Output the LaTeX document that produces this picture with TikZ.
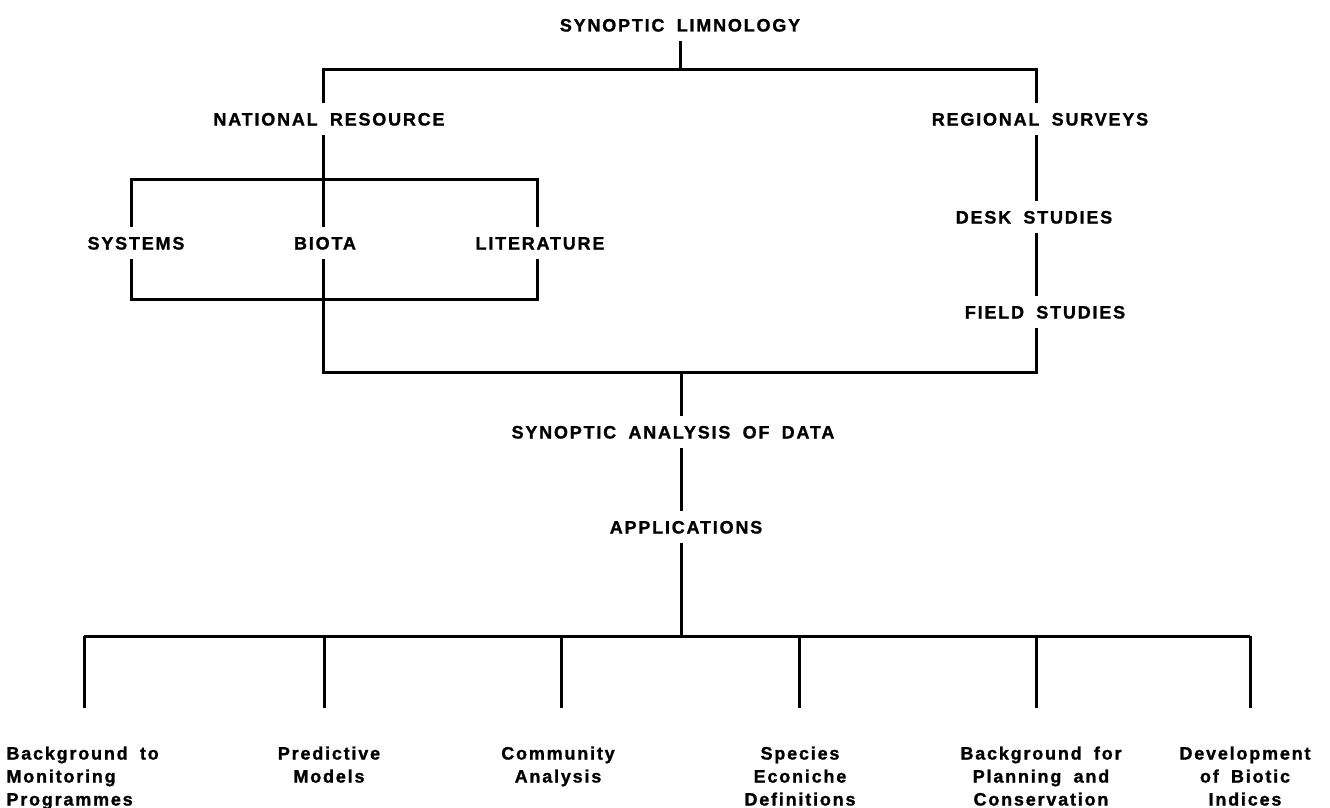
\documentclass[tikz,border=0pt]{standalone}
\usepackage{fontspec}
\setmainfont{Liberation Sans}[LetterSpace=10,WordSpace=1.8,BoldFeatures={FakeBold=1.2}]
\begin{document}
\begin{tikzpicture}[x=1pt,y=-1pt,line width=3pt,line join=miter,
  captxt/.style={font=\fontsize{18}{21}\selectfont\bfseries,inner xsep=0pt,inner ysep=8pt,text height=13pt,text depth=0pt},
  lab/.style={font=\fontsize{18}{23}\selectfont\bfseries,align=center,anchor=north,inner sep=0pt}]
\useasboundingbox[fill=white] (0,0) rectangle (1330,808);
% text nodes
\node[captxt] (sl) at (680,25) {SYNOPTIC LIMNOLOGY};
\node[captxt] (nr) at (329,119) {NATIONAL RESOURCE};
\node[captxt] (rs) at (1040,119) {REGIONAL SURVEYS};
\node[captxt] (sy) at (136,243) {SYSTEMS};
\node[captxt] (bi) at (325,243) {BIOTA};
\node[captxt] (li) at (540,243) {LITERATURE};
\node[captxt] (ds) at (1034,217) {DESK STUDIES};
\node[captxt] (fs) at (1045,312) {FIELD STUDIES};
\node[captxt] (sa) at (673,432) {SYNOPTIC ANALYSIS OF DATA};
\node[captxt] (ap) at (686,527) {APPLICATIONS};
% junction coordinates
\coordinate (tc) at (680,70);
\coordinate (tl) at (323,70);
\coordinate (tr) at (1036,70);
\coordinate (b1) at (131,179);
\coordinate (b2) at (537,179);
\coordinate (b3) at (131,299);
\coordinate (b4) at (537,299);
\coordinate (ml) at (323,372);
\coordinate (mr) at (1036,372);
\coordinate (mc) at (681,372);
\coordinate (ac) at (681,636);
\coordinate (d1) at (84,636);
\coordinate (d2) at (324,636);
\coordinate (d3) at (561,636);
\coordinate (d4) at (799,636);
\coordinate (d5) at (1036,636);
\coordinate (d6) at (1250,636);
\coordinate (e1) at (84,708);
\coordinate (e2) at (324,708);
\coordinate (e3) at (561,708);
\coordinate (e4) at (799,708);
\coordinate (e5) at (1036,708);
\coordinate (e6) at (1250,708);
% connectors
\draw (sl) -- (tc);
\draw (nr.north -| tl) -- (tl) -- (tr) -- (rs.north -| tr);
\draw (nr.south -| tl) -- (bi.north -| tl);
\draw (sy.north -| b1) -- (b1) -- (b2) -- (li.north -| b2);
\draw (sy.south -| b3) -- (b3) -- (b4) -- (li.south -| b4);
\draw (bi.south -| ml) -- (ml) -- (mr) -- (fs.south -| mr);
\draw (rs.south -| tr) -- (ds.north -| tr);
\draw (ds.south -| tr) -- (fs.north -| tr);
\draw (mc) -- (sa.north -| mc);
\draw (sa.south -| mc) -- (ap.north -| mc);
\draw (ap.south -| mc) -- (ac);
\draw (d1) -- (d6);
\foreach \i in {1,...,6} { \draw (d\i) -- (e\i); }
% bottom labels
\node[lab,anchor=north west,align=left] (l1) at (5,745) {Background to\\Monitoring\\Programmes};
\node[lab] (l2) at (329,745) {Predictive\\Models};
\node[lab] (l3) at (558,745) {Community\\Analysis};
\node[lab] (l4) at (800,745) {Species\\Econiche\\Definitions};
\node[lab] (l5) at (1041,745) {Background for\\Planning and\\Conservation};
\node[lab] (l6) at (1245,745) {Development\\of Biotic\\Indices};
\end{tikzpicture}
\end{document}
